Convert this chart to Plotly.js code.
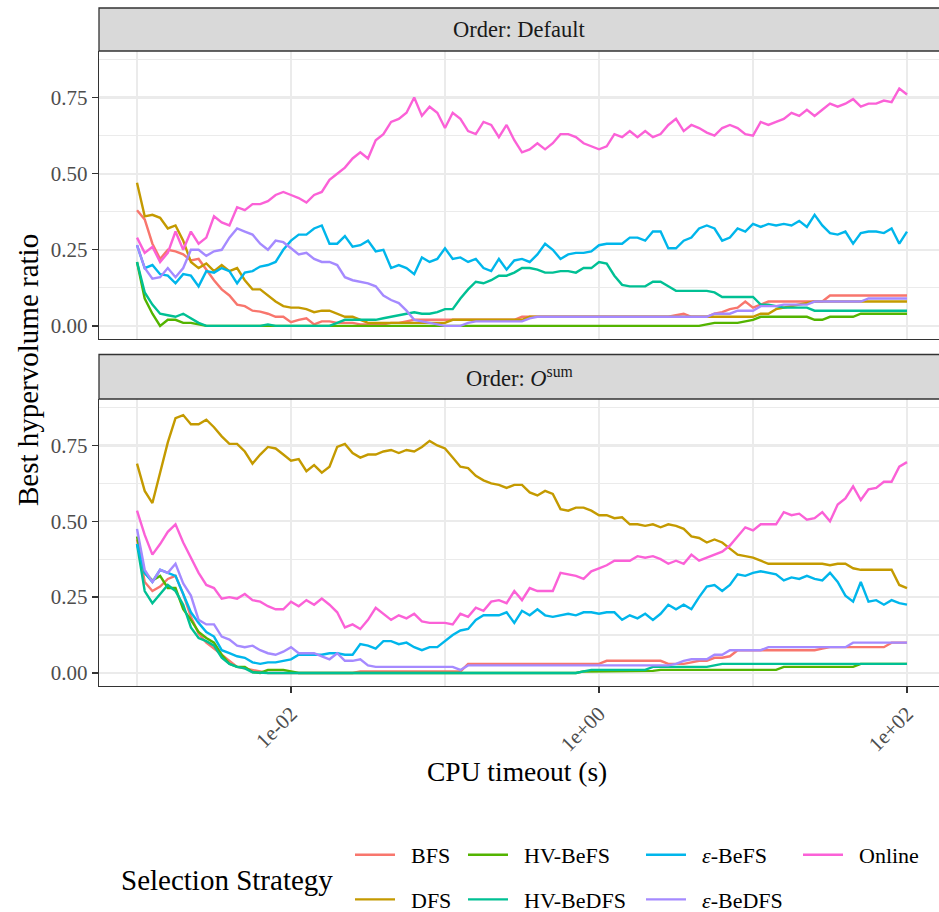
<!DOCTYPE html>
<html><head><meta charset="utf-8">
<script src="https://cdn.plot.ly/plotly-3.0.1.min.js"></script>
<style>html,body{margin:0;padding:0;background:#fff}#chart{width:939px;height:912px}</style>
</head><body><div id="chart"></div>
<script>
// log10 of CPU timeout (s) at which each strategy was evaluated
const logTimeout = [-3.00,-2.95,-2.90,-2.85,-2.80,-2.75,-2.70,-2.65,-2.60,-2.55,
-2.50,-2.45,-2.40,-2.35,-2.30,-2.25,-2.20,-2.15,-2.10,-2.05,
-2.00,-1.95,-1.90,-1.85,-1.80,-1.75,-1.70,-1.65,-1.60,-1.55,
-1.50,-1.45,-1.40,-1.35,-1.30,-1.25,-1.20,-1.15,-1.10,-1.05,
-1.00,-0.95,-0.90,-0.85,-0.80,-0.75,-0.70,-0.65,-0.60,-0.55,
-0.50,-0.45,-0.40,-0.35,-0.30,-0.25,-0.20,-0.15,-0.10,-0.05,
0.00,0.05,0.10,0.15,0.20,0.25,0.30,0.35,0.40,0.45,
0.50,0.55,0.60,0.65,0.70,0.75,0.80,0.85,0.90,0.95,
1.00,1.05,1.10,1.15,1.20,1.25,1.30,1.35,1.40,1.45,
1.50,1.55,1.60,1.65,1.70,1.75,1.80,1.85,1.90,1.95,
2.00];

const strategies = ["BFS","DFS","HV-BeFS","HV-BeDFS","ε-BeFS","ε-BeDFS","Online"];
const strategyLabels = ["BFS","DFS","HV-BeFS","HV-BeDFS","<i>ε</i>-BeFS","<i>ε</i>-BeDFS","Online"];
const strategyColors = ["#F8766D","#C49A00","#53B400","#00C094","#00B6EB","#A58AFF","#FB61D7"];
const panelTitles = ["Order: Default","Order: <i>O</i><sup>sum</sup>"];
const xTickVals = [0.01, 1, 100];
const xTickText = ["1e-02","1e+00","1e+02"];
const yTickVals = [0, 0.25, 0.5, 0.75];
const yTickText = ["0.00","0.25","0.50","0.75"];

// ---- Order: Default ----
const default_BFS = [0.38,0.35,0.27,0.22,0.25,0.245,0.235,0.215,0.22,0.185,
0.15,0.12,0.10,0.07,0.065,0.05,0.047,0.04,0.03,0.03,
0.012,0.02,0.025,0.005,0.015,0.015,0.01,0.01,0.01,0.005,
0.005,0.005,0.005,0.01,0.01,0.015,0.02,0.02,0.02,0.02,
0.02,0.02,0.02,0.02,0.02,0.02,0.02,0.02,0.02,0.02,
0.03,0.03,0.03,0.03,0.03,0.03,0.03,0.03,0.03,0.03,
0.03,0.03,0.03,0.03,0.03,0.03,0.03,0.03,0.03,0.03,
0.035,0.04,0.03,0.03,0.03,0.04,0.045,0.055,0.06,0.08,
0.06,0.07,0.08,0.08,0.08,0.08,0.08,0.08,0.08,0.08,
0.10,0.10,0.10,0.10,0.10,0.10,0.10,0.10,0.10,0.10,
0.10];
const default_DFS = [0.47,0.36,0.365,0.355,0.32,0.33,0.28,0.21,0.19,0.205,
0.18,0.20,0.18,0.19,0.15,0.12,0.12,0.10,0.08,0.065,
0.06,0.06,0.055,0.045,0.05,0.05,0.04,0.03,0.03,0.02,
0.01,0.01,0.01,0.01,0.01,0.01,0.01,0.01,0.01,0.01,
0.01,0.02,0.02,0.02,0.02,0.02,0.02,0.02,0.02,0.02,
0.02,0.03,0.03,0.03,0.03,0.03,0.03,0.03,0.03,0.03,
0.03,0.03,0.03,0.03,0.03,0.03,0.03,0.03,0.03,0.03,
0.03,0.03,0.03,0.03,0.03,0.03,0.03,0.03,0.03,0.03,
0.03,0.04,0.04,0.055,0.06,0.065,0.07,0.075,0.08,0.08,
0.08,0.08,0.08,0.08,0.08,0.08,0.08,0.08,0.08,0.08,
0.08];
const default_HVBeFS = [0.21,0.09,0.04,0.0,0.02,0.02,0.01,0.01,0.005,0,
0,0,0,0,0,0,0,0,0,0,
0,0,0,0,0,0,0,0,0,0,
0,0,0,0,0,0,0,0,0,0,
0,0,0,0,0,0,0,0,0,0,
0,0,0,0,0,0,0,0,0,0,
0,0,0,0,0,0,0,0,0,0,
0,0,0,0,0.005,0.01,0.01,0.01,0.01,0.015,
0.02,0.03,0.03,0.03,0.03,0.03,0.03,0.03,0.02,0.02,
0.03,0.03,0.03,0.03,0.04,0.04,0.04,0.04,0.04,0.04,
0.04];
const default_HVBeDFS = [0.21,0.11,0.07,0.04,0.035,0.03,0.04,0.025,0.01,0,
0,0,0,0,0,0,0,0.005,0,0,
0,0,0,0,0,0,0.01,0.02,0.02,0.02,
0.02,0.02,0.025,0.03,0.035,0.04,0.045,0.04,0.04,0.045,
0.055,0.055,0.09,0.12,0.145,0.14,0.15,0.165,0.165,0.175,
0.19,0.19,0.185,0.175,0.175,0.18,0.18,0.175,0.19,0.19,
0.21,0.205,0.165,0.135,0.13,0.13,0.13,0.145,0.145,0.13,
0.115,0.115,0.115,0.115,0.115,0.11,0.095,0.095,0.095,0.095,
0.095,0.07,0.07,0.065,0.06,0.06,0.06,0.06,0.05,0.05,
0.05,0.05,0.05,0.05,0.05,0.05,0.05,0.05,0.05,0.05,
0.05];
const default_EpsBeFS = [0.265,0.19,0.20,0.17,0.165,0.14,0.17,0.165,0.13,0.18,
0.175,0.19,0.18,0.14,0.175,0.18,0.195,0.20,0.21,0.25,
0.28,0.30,0.30,0.32,0.33,0.27,0.27,0.295,0.26,0.265,
0.28,0.245,0.25,0.19,0.20,0.19,0.17,0.225,0.21,0.22,
0.255,0.22,0.225,0.21,0.22,0.19,0.18,0.22,0.185,0.215,
0.22,0.21,0.235,0.27,0.25,0.22,0.235,0.24,0.24,0.245,
0.265,0.27,0.27,0.27,0.29,0.29,0.28,0.31,0.31,0.255,
0.255,0.28,0.29,0.32,0.33,0.32,0.28,0.29,0.32,0.31,
0.335,0.325,0.335,0.33,0.335,0.33,0.345,0.325,0.365,0.33,
0.305,0.30,0.31,0.27,0.305,0.31,0.31,0.305,0.32,0.27,
0.31];
const default_EpsBeDFS = [0.265,0.19,0.155,0.16,0.19,0.16,0.19,0.25,0.25,0.23,
0.245,0.25,0.29,0.32,0.31,0.30,0.27,0.25,0.28,0.275,
0.255,0.235,0.24,0.22,0.21,0.21,0.20,0.16,0.15,0.145,
0.14,0.13,0.10,0.085,0.075,0.05,0.02,0.015,0.01,0.005,
0,0,0,0.01,0.015,0.015,0.015,0.015,0.015,0.015,
0.015,0.025,0.03,0.03,0.03,0.03,0.03,0.03,0.03,0.03,
0.03,0.03,0.03,0.03,0.03,0.03,0.03,0.03,0.03,0.03,
0.03,0.03,0.03,0.03,0.03,0.04,0.04,0.04,0.05,0.05,
0.05,0.065,0.065,0.065,0.07,0.07,0.07,0.07,0.08,0.08,
0.08,0.08,0.08,0.08,0.08,0.09,0.09,0.09,0.09,0.09,
0.09];
const default_Online = [0.29,0.24,0.26,0.21,0.24,0.31,0.25,0.31,0.27,0.29,
0.36,0.34,0.33,0.39,0.38,0.40,0.40,0.41,0.43,0.44,
0.43,0.42,0.405,0.43,0.44,0.48,0.50,0.52,0.55,0.57,
0.55,0.61,0.63,0.67,0.68,0.70,0.75,0.69,0.72,0.70,
0.65,0.70,0.68,0.64,0.63,0.67,0.66,0.62,0.66,0.61,
0.57,0.58,0.60,0.58,0.60,0.63,0.63,0.62,0.60,0.59,
0.58,0.59,0.63,0.62,0.64,0.62,0.64,0.62,0.63,0.66,
0.68,0.64,0.66,0.65,0.635,0.625,0.65,0.66,0.65,0.63,
0.625,0.67,0.66,0.67,0.68,0.70,0.69,0.71,0.69,0.71,
0.73,0.72,0.73,0.745,0.72,0.73,0.73,0.74,0.735,0.78,
0.76];

// ---- Order: O^sum ----
const osum_BFS = [0.44,0.30,0.27,0.285,0.31,0.32,0.26,0.185,0.13,0.10,
0.08,0.06,0.04,0.02,0.015,0.01,0.005,0,0,0,
0,0,0,0,0,0,0,0,0,0.005,
0.005,0.005,0.005,0.005,0.005,0.005,0.005,0.005,0.005,0.005,
0.005,0.005,0.005,0.03,0.03,0.03,0.03,0.03,0.03,0.03,
0.03,0.03,0.03,0.03,0.03,0.03,0.03,0.03,0.03,0.03,
0.03,0.04,0.04,0.04,0.04,0.04,0.04,0.04,0.04,0.03,
0.03,0.03,0.035,0.04,0.04,0.05,0.05,0.055,0.075,0.075,
0.075,0.075,0.075,0.075,0.075,0.075,0.075,0.075,0.075,0.08,
0.085,0.085,0.085,0.085,0.085,0.085,0.085,0.085,0.10,0.10,
0.10];
const osum_DFS = [0.69,0.60,0.56,0.66,0.76,0.84,0.85,0.82,0.82,0.835,
0.81,0.78,0.755,0.755,0.73,0.69,0.72,0.745,0.74,0.72,
0.70,0.705,0.665,0.685,0.66,0.68,0.745,0.755,0.725,0.71,
0.72,0.72,0.73,0.735,0.725,0.735,0.73,0.745,0.765,0.75,
0.74,0.71,0.68,0.675,0.65,0.635,0.625,0.62,0.61,0.62,
0.62,0.595,0.585,0.60,0.59,0.54,0.535,0.545,0.545,0.535,
0.52,0.52,0.51,0.513,0.49,0.49,0.485,0.49,0.48,0.49,
0.485,0.475,0.45,0.445,0.43,0.44,0.43,0.41,0.39,0.385,
0.38,0.37,0.36,0.36,0.36,0.36,0.36,0.36,0.36,0.36,
0.355,0.36,0.36,0.345,0.34,0.34,0.34,0.34,0.34,0.29,
0.28];
const osum_HVBeFS = [0.45,0.33,0.305,0.32,0.28,0.28,0.21,0.175,0.135,0.115,
0.10,0.06,0.03,0.02,0.02,0.003,0,0.01,0.01,0.01,
0.005,0,0,0,0,0,0,0,0,0,
0,0,0,0,0,0,0,0,0,0,
0,0,0,0,0,0,0,0,0,0,
0,0,0,0,0,0,0,0,0.005,0.005,
0.005,0.005,0.005,0.005,0.005,0.005,0.005,0.007,0.01,0.01,
0.01,0.01,0.01,0.01,0.01,0.01,0.01,0.01,0.01,0.01,
0.01,0.01,0.01,0.01,0.02,0.02,0.02,0.02,0.02,0.02,
0.02,0.02,0.02,0.02,0.03,0.03,0.03,0.03,0.03,0.03,
0.03];
const osum_HVBeDFS = [0.425,0.27,0.23,0.26,0.29,0.27,0.225,0.15,0.115,0.105,
0.09,0.05,0.03,0.02,0.015,0.002,0,0,0,0,
0,0,0,0,0,0,0,0,0,0,
0,0,0,0,0,0,0,0,0,0,
0,0,0,0,0,0,0,0,0,0,
0,0,0,0,0,0,0,0,0.005,0.01,
0.01,0.01,0.01,0.01,0.01,0.01,0.01,0.02,0.02,0.02,
0.02,0.02,0.02,0.02,0.02,0.025,0.03,0.03,0.03,0.03,
0.03,0.03,0.03,0.03,0.03,0.03,0.03,0.03,0.03,0.03,
0.03,0.03,0.03,0.03,0.03,0.03,0.03,0.03,0.03,0.03,
0.03];
const osum_EpsBeFS = [0.425,0.33,0.30,0.34,0.33,0.32,0.26,0.20,0.165,0.135,
0.12,0.075,0.065,0.055,0.05,0.035,0.03,0.035,0.035,0.04,
0.045,0.06,0.06,0.06,0.06,0.065,0.065,0.06,0.06,0.095,
0.09,0.08,0.105,0.105,0.095,0.10,0.085,0.075,0.085,0.085,
0.105,0.125,0.14,0.145,0.175,0.19,0.19,0.19,0.20,0.165,
0.205,0.19,0.21,0.19,0.185,0.19,0.195,0.19,0.20,0.20,
0.195,0.20,0.20,0.175,0.19,0.18,0.195,0.175,0.195,0.225,
0.21,0.225,0.21,0.25,0.285,0.29,0.27,0.29,0.325,0.32,
0.33,0.335,0.33,0.325,0.305,0.315,0.31,0.32,0.31,0.305,
0.33,0.30,0.255,0.235,0.30,0.235,0.24,0.225,0.24,0.23,
0.225];
const osum_EpsBeDFS = [0.475,0.34,0.30,0.34,0.33,0.36,0.295,0.255,0.175,0.16,
0.16,0.12,0.11,0.09,0.085,0.09,0.075,0.065,0.06,0.07,
0.085,0.065,0.065,0.065,0.055,0.045,0.065,0.04,0.04,0.045,
0.025,0.02,0.02,0.02,0.02,0.02,0.02,0.02,0.02,0.02,
0.02,0.02,0.01,0.025,0.025,0.025,0.025,0.025,0.025,0.025,
0.025,0.025,0.025,0.025,0.025,0.025,0.025,0.025,0.025,0.025,
0.025,0.025,0.025,0.025,0.025,0.025,0.025,0.025,0.025,0.025,
0.03,0.04,0.045,0.045,0.045,0.06,0.06,0.075,0.075,0.075,
0.075,0.075,0.085,0.085,0.085,0.085,0.085,0.085,0.085,0.085,
0.085,0.085,0.085,0.10,0.10,0.10,0.10,0.10,0.10,0.10,
0.10];
const osum_Online = [0.535,0.455,0.39,0.425,0.465,0.49,0.43,0.38,0.33,0.29,
0.28,0.245,0.25,0.245,0.26,0.24,0.235,0.22,0.21,0.21,
0.235,0.22,0.24,0.225,0.245,0.225,0.20,0.15,0.16,0.145,
0.175,0.215,0.195,0.175,0.19,0.18,0.195,0.17,0.165,0.165,
0.165,0.16,0.195,0.185,0.215,0.205,0.235,0.24,0.23,0.27,
0.24,0.28,0.27,0.27,0.27,0.33,0.325,0.32,0.31,0.335,
0.345,0.355,0.37,0.37,0.37,0.385,0.38,0.385,0.375,0.36,
0.37,0.36,0.39,0.37,0.38,0.39,0.40,0.42,0.45,0.48,
0.47,0.49,0.49,0.49,0.53,0.52,0.525,0.505,0.51,0.53,
0.50,0.555,0.575,0.615,0.57,0.605,0.61,0.63,0.63,0.68,
0.695];

const timeout = logTimeout.map(e => Math.pow(10, e));
const FONT = '"Liberation Serif", "DejaVu Serif", serif';
const panels = [
  {xaxis: 'x2', yaxis: 'y2', series: [default_BFS, default_DFS, default_HVBeFS, default_HVBeDFS, default_EpsBeFS, default_EpsBeDFS, default_Online]},
  {xaxis: 'x', yaxis: 'y', series: [osum_BFS, osum_DFS, osum_HVBeFS, osum_HVBeDFS, osum_EpsBeFS, osum_EpsBeDFS, osum_Online]}
];
const legendOf = ['legend','legend','legend2','legend2','legend3','legend3','legend4'];

const traces = [];
panels.forEach((p, pi) => {
  p.series.forEach((vals, si) => {
    traces.push({
      type: 'scatter', mode: 'lines',
      x: timeout, y: vals,
      xaxis: p.xaxis, yaxis: p.yaxis,
      name: '&nbsp;&nbsp;' + strategyLabels[si],
      legendgroup: strategies[si],
      legend: legendOf[si],
      showlegend: pi === 0,
      line: {color: strategyColors[si], width: 2.4},
      hoverinfo: 'skip'
    });
  });
});

const xRange = [-3.2468, 2.2078];
const yRange = [-0.043, 0.903];
const gridCol = '#EBEBEB';
const axisCol = '#333333';

function xAxis(showLabels, anchor) {
  return {
    type: 'log', range: xRange, anchor: anchor,
    tickvals: xTickVals, ticktext: xTickText,
    showticklabels: showLabels,
    ticks: showLabels ? 'outside' : '', ticklen: 6, tickwidth: 1.3, tickcolor: axisCol,
    tickangle: -45,
    tickfont: {family: FONT, size: 21, color: '#4D4D4D'},
    showgrid: true, gridcolor: gridCol, gridwidth: 2.2,
    minor: {tickvals: [0.001, 0.1, 10], showgrid: true, gridcolor: gridCol, gridwidth: 1.1, ticks: ''},
    showline: true, linecolor: axisCol, linewidth: 1.3,
    zeroline: false, fixedrange: true
  };
}
function yAxis(domain, anchor) {
  return {
    domain: domain, range: yRange, anchor: anchor,
    tickvals: yTickVals, ticktext: yTickText,
    ticks: 'outside', ticklen: 6, tickwidth: 1.3, tickcolor: axisCol,
    tickfont: {family: FONT, size: 21, color: '#4D4D4D'},
    showgrid: true, gridcolor: gridCol, gridwidth: 2.2,
    minor: {tickvals: [0.125, 0.375, 0.625, 0.875], showgrid: true, gridcolor: gridCol, gridwidth: 1.1, ticks: ''},
    showline: true, linecolor: axisCol, linewidth: 1.3,
    zeroline: false, fixedrange: true
  };
}

const topDomain = [0.5118, 0.93658];
const botDomain = [0, 0.4233];
const topStrip = [0.93658, 1.0];
const botStrip = [0.4233, 0.48894];

function legendAt(px, py) {
  return {
    xref: 'container', yref: 'container',
    x: px / 939, y: 1 - py / 912, xanchor: 'left', yanchor: 'top',
    orientation: 'v', bgcolor: 'rgba(0,0,0,0)', borderwidth: 0,
    font: {family: FONT, size: 22, color: '#000000'},
    itemwidth: 40, tracegroupgap: 13, valign: 'middle',
    itemclick: false, itemdoubleclick: false
  };
}

const layout = {
  width: 939, height: 912,
  margin: {l: 99, r: 0, t: 8, b: 226, autoexpand: false},
  paper_bgcolor: '#FFFFFF', plot_bgcolor: '#FFFFFF',
  font: {family: FONT, color: '#000000'},
  xaxis: xAxis(true, 'y'),
  xaxis2: xAxis(false, 'y2'),
  yaxis: yAxis(botDomain, 'x'),
  yaxis2: yAxis(topDomain, 'x2'),
  legend: legendAt(350, 834),
  legend2: legendAt(463, 834),
  legend3: legendAt(641, 834),
  legend4: legendAt(798, 834),
  shapes: [
    {type: 'rect', xref: 'paper', yref: 'paper', x0: 0, x1: 1.05, y0: topStrip[0], y1: topStrip[1],
     fillcolor: '#D9D9D9', line: {color: axisCol, width: 1.3}, layer: 'above'},
    {type: 'rect', xref: 'paper', yref: 'paper', x0: 0, x1: 1.05, y0: botStrip[0], y1: botStrip[1],
     fillcolor: '#D9D9D9', line: {color: axisCol, width: 1.3}, layer: 'above'}
  ],
  annotations: [
    {text: panelTitles[0], xref: 'paper', yref: 'paper', x: 0.5, y: (topStrip[0] + topStrip[1]) / 2,
     xanchor: 'center', yanchor: 'middle', showarrow: false, font: {family: FONT, size: 22.5, color: '#1A1A1A'}},
    {text: panelTitles[1], xref: 'paper', yref: 'paper', x: 0.5, y: (botStrip[0] + botStrip[1]) / 2,
     xanchor: 'center', yanchor: 'middle', showarrow: false, font: {family: FONT, size: 22.5, color: '#1A1A1A'}},
    {text: 'Best hypervolume ratio', xref: 'paper', yref: 'paper', x: -0.0845, y: 0.466, textangle: -90,
     xanchor: 'center', yanchor: 'middle', showarrow: false, font: {family: FONT, size: 29, color: '#000000'}},
    {text: 'CPU timeout (s)', xref: 'paper', yref: 'paper', x: 0.4976, y: -0.1268,
     xanchor: 'center', yanchor: 'middle', showarrow: false, font: {family: FONT, size: 27.5, color: '#000000'}},
    {text: 'Selection Strategy', xref: 'paper', yref: 'paper', x: 0.1524, y: -0.2861,
     xanchor: 'center', yanchor: 'middle', showarrow: false, font: {family: FONT, size: 29, color: '#000000'}}
  ]
};

Plotly.newPlot('chart', traces, layout, {displayModeBar: false, staticPlot: true});
</script>
</body></html>
